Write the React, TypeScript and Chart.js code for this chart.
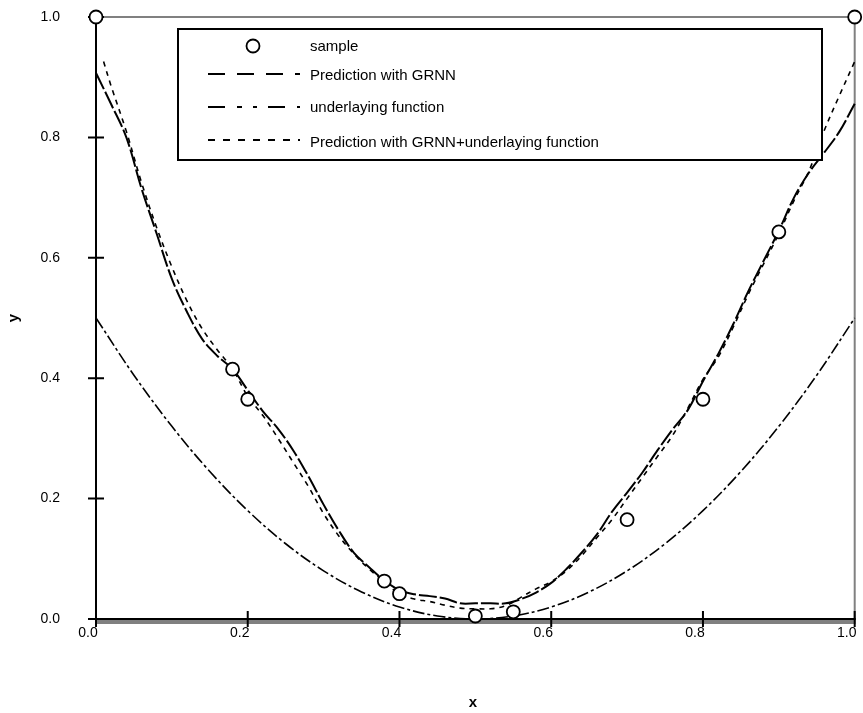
import React, { useEffect, useRef } from 'react';
import { Chart, registerables } from 'chart.js';

Chart.register(...registerables);

// ---- data ----
const sampleX = [0, 0.18, 0.2, 0.38, 0.4, 0.5, 0.55, 0.7, 0.8, 0.9, 1.0];
const sampleY = [1.0, 0.415, 0.365, 0.063, 0.042, 0.005, 0.012, 0.165, 0.365, 0.643, 1.0];

const grnnX = [0, 0.02, 0.04, 0.06, 0.08, 0.1, 0.12, 0.14, 0.16, 0.18, 0.2, 0.22, 0.24, 0.26, 0.28, 0.3, 0.32, 0.34, 0.36, 0.38, 0.4, 0.42, 0.44, 0.46, 0.48, 0.5, 0.52, 0.54, 0.56, 0.58, 0.6, 0.62, 0.64, 0.66, 0.68, 0.7, 0.72, 0.74, 0.76, 0.78, 0.8, 0.82, 0.84, 0.86, 0.88, 0.9, 0.92, 0.94, 0.96, 0.98, 1.0];
const grnnY = [0.907, 0.855, 0.8, 0.715, 0.64, 0.565, 0.51, 0.465, 0.437, 0.415, 0.38, 0.345, 0.316, 0.28, 0.237, 0.19, 0.147, 0.11, 0.086, 0.064, 0.048, 0.041, 0.038, 0.034, 0.026, 0.026, 0.026, 0.026, 0.033, 0.044, 0.06, 0.083, 0.11, 0.14, 0.178, 0.21, 0.243, 0.28, 0.315, 0.347, 0.395, 0.44, 0.49, 0.545, 0.595, 0.645, 0.7, 0.742, 0.775, 0.81, 0.856];

const underX = [0, 0.05, 0.1, 0.15, 0.2, 0.25, 0.3, 0.35, 0.4, 0.45, 0.5, 0.55, 0.6, 0.65, 0.7, 0.75, 0.8, 0.85, 0.9, 0.95, 1.0];
const underY = [0.5, 0.405, 0.32, 0.245, 0.18, 0.125, 0.08, 0.045, 0.02, 0.005, 0.0, 0.005, 0.02, 0.045, 0.08, 0.125, 0.18, 0.245, 0.32, 0.405, 0.5];

const comboX = [0.01, 0.02, 0.04, 0.06, 0.08, 0.1, 0.12, 0.14, 0.16, 0.18, 0.2, 0.22, 0.24, 0.26, 0.28, 0.3, 0.32, 0.34, 0.36, 0.38, 0.4, 0.42, 0.44, 0.46, 0.48, 0.5, 0.52, 0.54, 0.56, 0.58, 0.6, 0.62, 0.64, 0.66, 0.68, 0.7, 0.72, 0.74, 0.76, 0.78, 0.8, 0.82, 0.84, 0.86, 0.88, 0.9, 0.92, 0.94, 0.96, 0.98, 1.0];
const comboY = [0.926, 0.885, 0.81, 0.725, 0.65, 0.585, 0.528, 0.482, 0.447, 0.415, 0.37, 0.338, 0.3, 0.26, 0.22, 0.175, 0.138, 0.108, 0.083, 0.062, 0.042, 0.033, 0.029, 0.023, 0.018, 0.017, 0.017, 0.022, 0.036, 0.05, 0.062, 0.08, 0.105, 0.135, 0.165, 0.2, 0.235, 0.27, 0.305, 0.35, 0.398, 0.435, 0.485, 0.54, 0.59, 0.64, 0.695, 0.745, 0.812, 0.87, 0.926];

const xTicks = [0, 0.2, 0.4, 0.6, 0.8, 1.0];
const yTicks = [0, 0.2, 0.4, 0.6, 0.8, 1.0];
const legendLabels = ['sample', 'Prediction with GRNN', 'underlaying function', 'Prediction with GRNN+underlaying function'];
const xTitle = 'x';
const yTitle = 'y';

const FONT = "'Liberation Sans', Arial, sans-serif";

const pts = (xs: number[], ys: number[]) => xs.map((x, i) => ({ x, y: ys[i] }));

const zeroPad = (s: any) => {
  s.paddingLeft = 0;
  s.paddingRight = 0;
  s.paddingTop = 0;
  s.paddingBottom = 0;
};

const framePlugin = {
  id: 'framePlugin',
  beforeDatasetsDraw(chart: any) {
    const { ctx, chartArea: a, scales } = chart;
    const xs = scales.x;
    const ys = scales.y;
    ctx.save();
    // gray frame top/right
    ctx.strokeStyle = '#808080';
    ctx.lineWidth = 2;
    ctx.beginPath();
    ctx.moveTo(a.left, a.top);
    ctx.lineTo(a.right, a.top);
    ctx.lineTo(a.right, a.bottom + 1);
    ctx.stroke();
    // gray band below x axis
    ctx.fillStyle = '#808080';
    ctx.fillRect(a.left, a.bottom + 1, a.right - a.left + 1, 4);
    // black axes
    ctx.strokeStyle = '#000';
    ctx.lineWidth = 2;
    ctx.beginPath();
    ctx.moveTo(a.left, a.top);
    ctx.lineTo(a.left, a.bottom);
    ctx.moveTo(a.left - 8, a.bottom);
    ctx.lineTo(a.right + 1, a.bottom);
    ctx.stroke();
    // ticks crossing the axes
    ctx.beginPath();
    yTicks.forEach((v) => {
      const py = ys.getPixelForValue(v);
      ctx.moveTo(a.left - 8, py);
      ctx.lineTo(a.left + 8, py);
    });
    xTicks.forEach((v) => {
      const px = xs.getPixelForValue(v);
      ctx.moveTo(px, a.bottom - 8);
      ctx.lineTo(px, a.bottom + 8);
    });
    ctx.stroke();
    ctx.restore();
  },
  afterDraw(chart: any) {
    const { ctx } = chart;
    ctx.save();
    // legend box
    const bx = 178, by = 29, bw = 644, bh = 131;
    ctx.fillStyle = '#fff';
    ctx.fillRect(bx, by, bw, bh);
    ctx.strokeStyle = '#000';
    ctx.lineWidth = 2;
    ctx.strokeRect(bx, by, bw, bh);
    // sample marker
    ctx.beginPath();
    ctx.arc(253, 46, 6.5, 0, Math.PI * 2);
    ctx.fillStyle = '#fff';
    ctx.fill();
    ctx.lineWidth = 1.8;
    ctx.stroke();
    // line samples
    const rows = [74, 107, 140];
    const dashes = [[17, 12], [17, 12, 5, 11, 4, 11], [7, 8]];
    rows.forEach((y, i) => {
      ctx.beginPath();
      ctx.setLineDash(dashes[i]);
      ctx.lineWidth = 2;
      ctx.moveTo(208, y);
      ctx.lineTo(300, y);
      ctx.stroke();
    });
    ctx.setLineDash([]);
    // legend text
    ctx.fillStyle = '#000';
    ctx.font = `15px ${FONT}`;
    ctx.textBaseline = 'middle';
    ctx.textAlign = 'left';
    const textY = [47, 76, 108, 143];
    legendLabels.forEach((t, i) => ctx.fillText(t, 310, textY[i]));
    // axis titles
    ctx.font = `bold 15px ${FONT}`;
    ctx.textAlign = 'center';
    ctx.fillText(xTitle, 473, 703);
    ctx.translate(14, 318);
    ctx.rotate(-Math.PI / 2);
    ctx.fillText(yTitle, 0, 0);
    ctx.restore();
  },
};

export default function App() {
  const ref = useRef<HTMLCanvasElement | null>(null);
  useEffect(() => {
    if (!ref.current) return;
    const chart = new Chart(ref.current, {
      type: 'scatter',
      data: {
        datasets: [
          {
            label: legendLabels[0],
            data: pts(sampleX, sampleY),
            showLine: false,
            pointRadius: 6.5,
            pointBorderWidth: 1.8,
            pointBackgroundColor: '#fff',
            pointBorderColor: '#000',
            clip: false as any,
          },
          {
            label: legendLabels[1],
            data: pts(grnnX, grnnY),
            showLine: true,
            pointRadius: 0,
            borderColor: '#000',
            borderWidth: 2,
            borderDash: [18, 3],
            tension: 0.35,
            clip: false as any,
          },
          {
            label: legendLabels[2],
            data: pts(underX, underY),
            showLine: true,
            pointRadius: 0,
            borderColor: '#000',
            borderWidth: 1.6,
            borderDash: [12, 3, 3, 3],
            tension: 0.35,
            clip: false as any,
          },
          {
            label: legendLabels[3],
            data: pts(comboX, comboY),
            showLine: true,
            pointRadius: 0,
            borderColor: '#000',
            borderWidth: 1.6,
            borderDash: [5, 5],
            tension: 0.35,
            clip: false as any,
          },
        ],
      },
      options: {
        responsive: false,
        animation: false,
        devicePixelRatio: 1,
        layout: { padding: { left: 0, top: 17, right: 3, bottom: 0 } },
        plugins: { legend: { display: false }, tooltip: { enabled: false } },
        scales: {
          x: {
            type: 'linear',
            min: 0,
            max: 1,
            afterFit: (s: any) => { s.height = 94; zeroPad(s); },
            afterBuildTicks: (s: any) => { s.ticks = xTicks.map((v) => ({ value: v })); },
            grid: { display: false, drawTicks: false },
            border: { display: false },
            ticks: {
              callback: (v: any) => Number(v).toFixed(1),
              font: { family: FONT, size: 14 },
              color: '#000',
              padding: 6,
              labelOffset: -8,
              maxRotation: 0,
              autoSkip: false,
            },
          },
          y: {
            type: 'linear',
            min: 0,
            max: 1,
            afterFit: (s: any) => { s.width = 96; zeroPad(s); },
            afterBuildTicks: (s: any) => { s.ticks = yTicks.map((v) => ({ value: v })); },
            grid: { display: false, drawTicks: false },
            border: { display: false },
            ticks: {
              callback: (v: any) => Number(v).toFixed(1),
              font: { family: FONT, size: 14 },
              color: '#000',
              padding: 36,
              autoSkip: false,
            },
          },
        },
      } as any,
      plugins: [framePlugin],
    });
    return () => chart.destroy();
  }, []);
  return (
    <div style={{ position: 'fixed', left: 0, top: 0, width: 863, height: 713, background: '#fff' }}>
      <canvas ref={ref} width={863} height={713} style={{ display: 'block' }} />
    </div>
  );
}
